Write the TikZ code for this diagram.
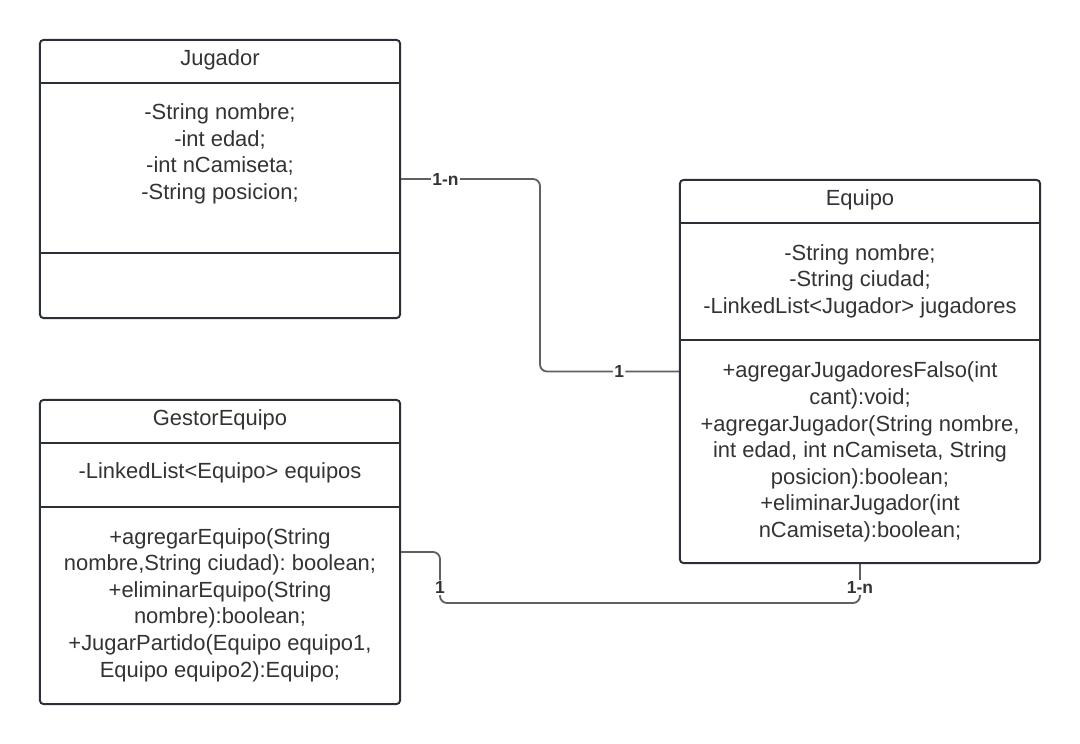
\documentclass[tikz,border=0pt]{standalone}
\usepackage{fontspec}
\setmainfont{Liberation Sans}
\usetikzlibrary{calc}
\definecolor{BordeClase}{HTML}{2B2F36}
\definecolor{TextoClase}{HTML}{333333}
\definecolor{LineaRel}{HTML}{606060}

\tikzset{
    clase/.style={draw=BordeClase, line width=1.4pt, rounded corners=2.5pt, minimum width=9cm, inner sep=0pt},
    texto/.style={text=TextoClase, align=center, font=\fontsize{15.6}{18.9}\selectfont\frenchspacing},
    rel/.style={draw=LineaRel, line width=1.3pt, rounded corners=5pt},
    card/.style={fill=white, text=TextoClase, inner sep=1pt, font=\fontsize{12.4}{14}\selectfont\bfseries}
}

\begin{document}
\begin{tikzpicture}[x=0.025cm, y=-0.025cm]
\useasboundingbox (0,0) rectangle (1080,744);

% clases
\node[clase, minimum height=6.95cm] (jugador) at (220,179) {};
\node[clase, minimum height=9.575cm] (equipo) at (860,371.5) {};
\node[clase, minimum height=7.6cm] (gestor) at (220,552) {};

% separadores
\foreach \c/\y in {jugador/83, jugador/253, equipo/223, equipo/340, gestor/443, gestor/507}{
    \draw[BordeClase, line width=1.4pt] (\c.west |- 0,\y) -- (\c.east |- 0,\y);
}

% textos
\node[texto] (tJugador) at (220,60) {Jugador};
\node[texto] (aJugador) at (220,154) {-String nombre;\\-int edad;\\-int nCamiseta;\\-String posicion;};

\node[texto] (tEquipo) at (860,200) {Equipo};
\node[texto] (aEquipo) at (860,281) {-String nombre;\\-String ciudad;\\-LinkedList<Jugador> jugadores};
\node[texto] (mEquipo) at (860,452) {+agregarJugadoresFalso(int\\cant):void;\\+agregarJugador(String nombre,\\int edad, int nCamiseta, String\\posicion):boolean;\\+eliminarJugador(int\\nCamiseta):boolean;};

\node[texto] (tGestor) at (220,420) {GestorEquipo};
\node[texto] (aGestor) at (220,473) {-LinkedList<Equipo> equipos};
\node[texto] (mGestor) at (220,605) {+agregarEquipo(String\\nombre,String ciudad): boolean;\\+eliminarEquipo(String\\nombre):boolean;\\+JugarPartido(Equipo equipo1,\\Equipo equipo2):Equipo;};

% relaciones
\coordinate (codo1) at ($(jugador.east)!.5!(equipo.west)$);
\draw[rel] (jugador.east) -- node[card, pos=.32] {1-n} (jugador.east -| codo1)
    -- (codo1 |- equipo.west) -- node[card, pos=.57] {1} (equipo.west);

\coordinate (codo2) at (440,603);
\draw[rel] (gestor.east) -- (gestor.east -| codo2) -- node[card, pos=.7] {1} (codo2)
    -- (codo2 -| equipo.south) -- node[card, pos=.4] {1-n} (equipo.south);

\end{tikzpicture}
\end{document}
